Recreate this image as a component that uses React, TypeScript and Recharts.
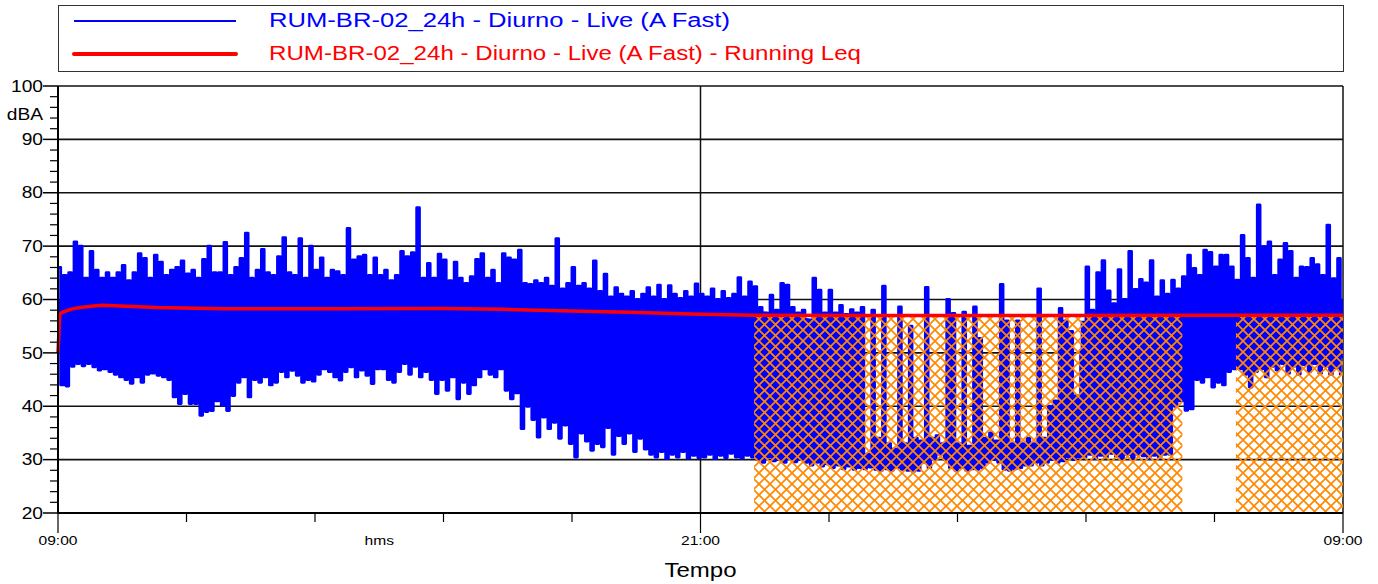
import React from 'react';
import { ComposedChart, Line, Area, XAxis, YAxis, ReferenceLine, ReferenceArea } from 'recharts';

// Live level, one max/min pair every 6 minutes from 09:00
const BIN_MINUTES = 6;

const liveHigh = [
  66, 64.5, 65, 70.8, 70, 64, 69, 65.5, 64, 65,
  64, 65, 66.4, 63.5, 65, 68.6, 67.7, 64, 68.3, 67,
  64.5, 65.5, 66, 67.2, 64.8, 65.5, 64, 67.5, 70, 65,
  65, 70.7, 64.5, 66, 67.7, 72.4, 64, 65.5, 69.4, 65,
  64.5, 68, 71.6, 65, 64.5, 71.4, 64, 70, 65.5, 67.8,
  64, 65.5, 65.2, 64.5, 73.3, 67.4, 68, 68.3, 64.5, 67.8,
  64.5, 65.5, 63.5, 64.5, 69, 68, 68.75, 77.2, 64, 66.75,
  64, 68.5, 67.4, 63.5, 67, 64, 63, 64.25, 67.5, 68.6,
  64, 65.5, 63, 68.6, 67.8, 67.4, 69.25, 63, 62.8, 63.5,
  63, 64, 62.5, 71.4, 62, 63, 66, 62.5, 63, 62,
  67.2, 61.5, 64.75, 60.5, 62.2, 61, 60.5, 61.5, 60, 61,
  62.2, 60.5, 62.7, 60, 62.6, 61, 60.2, 61.5, 60.5, 62.9,
  61, 60.5, 62, 60, 61.5, 60.2, 61, 64.1, 60.5, 63.3,
  62.4, 58.5, 57.5, 60.8, 58, 63, 62.7, 58.5, 57.5, 58,
  53, 64, 61.75, 57.5, 61.75, 57.5, 58.9, 57.2, 58.1, 57.5,
  58.5, 31, 58, 34, 62.5, 33, 32, 58.6, 33, 55,
  34, 33.5, 62.25, 34, 34.5, 33, 60, 57.4, 33, 57.6,
  32.5, 58.6, 52.7, 34, 35, 33.5, 62.8, 56, 33, 56,
  33, 34, 33, 62, 34, 40, 41, 58.3, 56, 54,
  42, 50.5, 66.1, 58, 65, 67.25, 61.6, 59.2, 65.6, 60,
  69, 61.9, 63.75, 63.1, 67.25, 60.5, 63.5, 61, 63.6, 62,
  64.25, 68.3, 65.8, 64.5, 69.25, 68.8, 66.1, 68.3, 68.3, 66.1,
  63.6, 72, 67.7, 64, 77.7, 69.9, 70.8, 64.5, 67.4, 70.5,
  69, 64, 66.1, 66, 67.7, 66.5, 64.5, 73.9, 63.9, 67.7,
];

const liveLow = [
  44, 43.8, 47.5, 48, 47.6, 48, 47.4, 46.8, 47, 46.5,
  46, 45.5, 45, 44.3, 45.5, 44.5, 46, 46.2, 45.8, 45.5,
  45, 41.75, 40.5, 42.4, 40.5, 40.5, 38.3, 39, 39.2, 41,
  40.2, 39.2, 42, 44.5, 45.5, 41.75, 45, 44.5, 45.5, 44,
  44.5, 46.5, 45.5, 46.75, 45.8, 44.5, 45, 44.7, 46, 47,
  46.5, 45.5, 44.9, 46.5, 47.4, 45.5, 46.8, 45.8, 44.25, 47,
  47, 45, 44.5, 46.5, 48, 46, 47.5, 45.5, 46.5, 45,
  42.4, 45, 43, 45.5, 41.4, 44.5, 42.4, 44, 45.5, 47,
  46, 45.5, 47, 43, 41.4, 42.5, 35.8, 40, 37.5, 34.25,
  38, 35.8, 37, 34, 36.5, 33, 30.5, 35, 33.5, 31.75,
  33, 32.4, 36, 31, 34.5, 33, 35, 31.5, 34, 32,
  31, 30.5, 31.5, 30.2, 31, 30.5, 31.5, 30.3, 30.8, 30.4,
  30.5, 31, 30.2, 30.8, 30.4, 31.2, 30.5, 30.3, 30.8, 30.5,
  30, 29.5, 30.5, 29.8, 30, 29.5, 30.2, 29.6, 30, 29.5,
  29, 29.5, 28.8, 29.2, 28.5, 29, 28.3, 28.8, 28.2, 28.5,
  28.3, 28.6, 28.2, 28, 28.3, 28, 28.5, 28.2, 28, 27.8,
  28, 29.5, 28.5, 30, 31, 30, 28.5, 28, 28.5, 28,
  28.3, 28.2, 28.5, 29.5, 30, 29.5, 28.2, 28, 28.3, 28.5,
  29, 29, 29.5, 29, 29.5, 30, 29.5, 29.8, 30.5, 30,
  30.5, 30.5, 31, 30.2, 30.8, 30.5, 31.2, 30.6, 30.3, 30.9,
  30.4, 31, 30.7, 30.2, 30.8, 30.5, 31, 31, 40, 41,
  39.25, 39.5, 45, 44.5, 45.5, 43.6, 44.5, 44, 46.5, 47,
  47, 46, 43.6, 46.5, 47, 45.5, 47.5, 46.8, 48, 46.2,
  47.5, 46, 47.8, 46.5, 48, 46.2, 47.5, 46, 47.2, 45.8,
];

// solid body of the live trace (where the samples are too dense to separate)
const coreMinutes = [0, 450, 500, 560, 620, 680, 720, 780, 900, 1146, 1242, 1250, 1262, 1270, 1320, 1440];
const coreTop = [60, 60, 60, 59.5, 59, 58.5, 58.5, 58, 55, 56, 56, 58, 58, 59, 60, 60];
const coreBottom = [50, 50, 48, 43, 38, 34, 33, 32, 31, 32, 32, 42, 42, 48, 49, 49];
const coreSegment = [0, 0, 0, 0, 0, 0, 0, 0, 0, 1, 1, 1, 1, 1, 1, 1];

// running Leq
const leqMinutes = [0, 2, 5, 10, 15, 25, 40, 50, 70, 110, 185, 310, 430, 500, 563, 640, 720, 780, 900, 1100, 1300, 1440];
const leqValues = [50, 57.3, 57.6, 57.9, 58.2, 58.5, 58.8, 58.9, 58.8, 58.5, 58.25, 58.25, 58.3, 58.15, 57.9, 57.6, 57.25, 57.05, 57.0, 57.0, 57.05, 57.05];

// masked (hatched) periods
const maskFrom = [780, 1320];
const maskTo = [1260, 1440];
const maskLevel = 57;

const yTicks = [20, 22, 24, 26, 28, 30, 32, 34, 36, 38, 40, 42, 44, 46, 48, 50, 52, 54, 56, 58, 60,
  62, 64, 66, 68, 70, 72, 74, 76, 78, 80, 82, 84, 86, 88, 90, 92, 94, 96, 98, 100];
const yGrid = [30, 40, 50, 60, 70, 80, 90, 100];
const xMarks = [0, 144, 288, 432, 576, 720, 864, 1008, 1152, 1296, 1440];
const xLongMarks = [0, 720, 1440];
const xLabelMinutes = [0, 360, 720, 1440];
const xLabelTexts = ['09:00', 'hms', '21:00', '09:00'];

const seriesNames = [
  'RUM-BR-02_24h - Diurno - Live (A Fast)',
  'RUM-BR-02_24h - Diurno - Live (A Fast) - Running Leq',
];

const BLUE = '#0000FF';
const RED = '#FF0000';
const FONT = '"Liberation Sans", Arial, sans-serif';
const STRETCH = 1.2;

const liveData = liveHigh.flatMap((hi, i) => [
  { t: i * BIN_MINUTES, v: hi },
  { t: i * BIN_MINUTES + BIN_MINUTES / 2, v: liveLow[i] },
]);
const leqData = leqMinutes.map((t, i) => ({ t, v: leqValues[i] }));
const coreRows = coreMinutes.map((t, i) => ({ t, seg: coreSegment[i], band: [coreBottom[i], coreTop[i]] }));
const coreParts = [0, 1].map(s => coreRows.filter(r => r.seg === s));
const xTicks = [...xMarks, 360].sort((a, b) => a - b);

// the original picture is stretched sideways, so the text is too
function Wide({ x, y, size, fill = '#000', anchor = 'start', len, children }: any) {
  const fit = len ? { textLength: len / STRETCH, lengthAdjust: 'spacingAndGlyphs' } : {};
  return (
    <text
      transform={`translate(${x} ${y}) scale(${STRETCH} 1)`}
      fontSize={size}
      fontFamily={FONT}
      fill={fill}
      textAnchor={anchor}
      {...fit}
    >
      {children}
    </text>
  );
}

function YTick({ x, y, payload }: any) {
  const v = payload.value;
  const major = v % 10 === 0;
  return (
    <g>
      <line x1={x - (major ? 15 : 8)} x2={x} y1={y} y2={y} stroke="#000" strokeWidth={major ? 1.5 : 1.2} />
      {major && <Wide x={x - 15} y={y + 5.7} size={16} anchor="end">{v}</Wide>}
    </g>
  );
}

function XTick({ x, y, payload }: any) {
  const v = payload.value;
  const li = xLabelMinutes.indexOf(v);
  return (
    <g>
      {xMarks.includes(v) && (
        <line x1={x} x2={x} y1={y} y2={y + (xLongMarks.includes(v) ? 20 : 9)} stroke="#000" strokeWidth={1.2} />
      )}
      {li >= 0 && <Wide x={x} y={y + 32} size={13} anchor="middle">{xLabelTexts[li]}</Wide>}
    </g>
  );
}

function TempoLabel({ viewBox }: any) {
  const vb = viewBox || { x: 58, y: 513, width: 1285 };
  return <Wide x={vb.x + vb.width / 2} y={vb.y + 64} size={20} anchor="middle">Tempo</Wide>;
}

function UnitLabel({ viewBox }: any) {
  const vb = viewBox || { x: 0, y: 86, width: 58 };
  return <Wide x={vb.x + vb.width - 15} y={vb.y + 34} size={16} anchor="end">dBA</Wide>;
}

export default function App() {
  return (
    <div style={{ position: 'absolute', left: 0, top: 0, width: 1378, height: 584, background: '#fff' }}>
      <ComposedChart width={1378} height={584} margin={{ top: 86, right: 35, bottom: 0, left: 0 }}>
        <defs>
          <pattern id="nightHatch" width="11" height="11" patternUnits="userSpaceOnUse">
            <path d="M-1,-1 L12,12 M12,-1 L-1,12" stroke="#FF8800" strokeWidth="1.7" fill="none" />
          </pattern>
        </defs>
        <XAxis
          type="number"
          dataKey="t"
          domain={[0, 1440]}
          ticks={xTicks}
          interval={0}
          tick={<XTick />}
          tickLine={false}
          tickSize={0}
          tickMargin={0}
          height={71}
          axisLine={{ stroke: '#000', strokeWidth: 2 }}
          label={<TempoLabel />}
        />
        <YAxis
          type="number"
          domain={[20, 100]}
          ticks={yTicks}
          interval={0}
          tick={<YTick />}
          tickLine={false}
          tickSize={0}
          tickMargin={0}
          width={58}
          axisLine={{ stroke: '#000', strokeWidth: 2 }}
          label={<UnitLabel />}
        />
        {yGrid.map(v => (
          <ReferenceLine key={'g' + v} y={v} stroke="#111" strokeWidth={1.6} zIndex={-10} />
        ))}
        <ReferenceLine x={720} stroke="#111" strokeWidth={1.5} zIndex={-10} />
        <ReferenceLine x={1440} stroke="#111" strokeWidth={1.5} zIndex={-10} />
        {coreParts.map((part, i) => (
          <Area
            key={'core' + i}
            data={part}
            dataKey="band"
            type="linear"
            stroke="none"
            fill={BLUE}
            fillOpacity={1}
            isAnimationActive={false}
            legendType="none"
          />
        ))}
        <Line
          data={liveData}
          dataKey="v"
          type="stepAfter"
          stroke={BLUE}
          strokeWidth={2.9}
          strokeLinejoin="round"
          dot={false}
          activeDot={false}
          isAnimationActive={false}
        />
        {maskFrom.map((from, i) => (
          <ReferenceArea
            key={'mask' + i}
            x1={from}
            x2={maskTo[i]}
            y1={20}
            y2={maskLevel}
            fill="url(#nightHatch)"
            fillOpacity={1}
            stroke="none"
            zIndex={450}
          />
        ))}
        <Line
          data={leqData}
          dataKey="v"
          type="linear"
          stroke={RED}
          strokeWidth={3.5}
          dot={false}
          activeDot={false}
          isAnimationActive={false}
          zIndex={460}
        />
      </ComposedChart>
      <svg width={1378} height={80} style={{ position: 'absolute', left: 0, top: 0, pointerEvents: 'none' }}>
        <rect x={58.5} y={5.5} width={1285} height={66} fill="none" stroke="#333" strokeWidth={1} />
        <line x1={74} x2={236} y1={21} y2={21} stroke={BLUE} strokeWidth={2} />
        <line x1={74} x2={236} y1={54} y2={54} stroke={RED} strokeWidth={4} strokeLinecap="round" />
        <Wide x={269} y={27} size={21} fill={BLUE} len={461}>{seriesNames[0]}</Wide>
        <Wide x={269} y={60} size={21} fill={RED} len={592}>{seriesNames[1]}</Wide>
      </svg>
    </div>
  );
}
